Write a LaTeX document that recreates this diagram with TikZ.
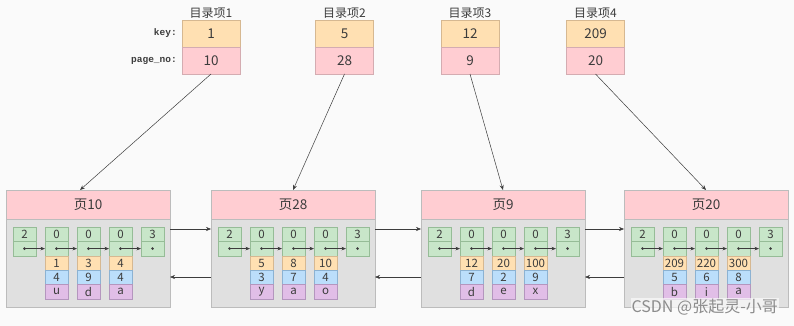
\documentclass[tikz,border=0pt]{standalone}
\usepackage{fontspec}
\setmainfont{Noto Sans CJK SC}
\newfontfamily\codefont{Liberation Mono}
\usepackage{xcolor}
\usepackage{tikz}
\usetikzlibrary{arrows.meta, positioning, calc}
\definecolor{keybg}{RGB}{255,224,178}
\definecolor{keyln}{RGB}{214,184,145}
\definecolor{pinkbg}{RGB}{255,205,210}
\definecolor{pinkln}{RGB}{212,172,177}
\definecolor{bodybg}{RGB}{224,224,224}
\definecolor{bodyln}{RGB}{188,188,188}
\definecolor{slotbg}{RGB}{200,230,201}
\definecolor{slotln}{RGB}{150,188,151}
\definecolor{nobg}{RGB}{187,222,251}
\definecolor{noln}{RGB}{140,178,210}
\definecolor{chbg}{RGB}{225,190,231}
\definecolor{chln}{RGB}{180,150,190}
\definecolor{inkgrey}{RGB}{60,60,60}
\definecolor{paper}{RGB}{250,250,250}

\begin{document}
\begin{tikzpicture}[
  x=1pt, y=-1pt,
  text=inkgrey,
  dkey/.style={rectangle, draw=keyln, fill=keybg, minimum width=58pt, minimum height=27pt,
               inner sep=0pt, outer sep=0pt, font=\fontsize{13.5}{15}\selectfont},
  dpage/.style={dkey, draw=pinkln, fill=pinkbg},
  dlbl/.style={inner sep=1pt, font=\fontsize{12}{14}\selectfont},
  klbl/.style={inner sep=0pt, font=\codefont\bfseries\fontsize{9.5}{11}\selectfont},
  phead/.style={rectangle, draw=bodyln, fill=pinkbg, minimum width=164pt, minimum height=29pt,
                inner sep=0pt, outer sep=0pt, font=\fontsize{13.5}{15}\selectfont},
  pbody/.style={rectangle, draw=bodyln, fill=bodybg, minimum width=164pt, minimum height=88pt,
                inner sep=0pt, outer sep=0pt},
  slot/.style={rectangle, draw=slotln, fill=slotbg, minimum width=23pt, minimum height=14.4pt,
               inner sep=0pt, outer sep=0pt, font=\fontsize{11.5}{12}\selectfont},
  kcell/.style={slot, draw=keyln, fill=keybg},
  ncell/.style={slot, draw=noln, fill=nobg},
  ccell/.style={slot, draw=chln, fill=chbg},
  ptr/.style={-{Stealth[length=5pt, width=4pt]}, line width=0.5pt, inkgrey},
  sptr/.style={-{Stealth[length=4.5pt, width=3.5pt]}, line width=0.5pt, inkgrey},
  wmark/.style={inner sep=1pt, text=black!45, fill=paper, fill opacity=0.7, text opacity=1,
                font=\fontsize{16}{18}\selectfont}
]
\fill[paper] (0,0) rectangle (794,326);
\useasboundingbox (0,0) rectangle (794,326);

% directory entries
\foreach \d/\dx/\k/\p in {1/211/1/10, 2/344.5/5/28, 3/470/12/9, 4/595.5/209/20} {
  \node[dkey] (d\d-k) at (\dx,33.5) {\k};
  \node[dpage, below=0pt of d\d-k] (d\d-p) {\p};
  \node[dlbl, above=0pt of d\d-k] (d\d-l) {目录项\d};
}
\node[klbl, left=5pt of d1-k] (keyl) {key:};
\node[klbl, left=5pt of d1-p] (pnol) {page\_no:};

% data pages
\foreach \pg/\px/\ttl/\ka/\kb/\kc/\na/\nb/\nc/\ca/\cb/\cc in {
    p10/6/页10/1/3/4/4/9/4/u/d/a,
    p28/211/页28/5/8/10/3/7/4/y/a/o,
    p9/421/页9/12/20/100/7/2/9/d/e/x,
    p20/624/页20/209/220/300/5/6/8/b/i/a} {
  \node[phead, anchor=north west] (\pg-h) at (\px,190) {\ttl};
  \node[pbody, below=0pt of \pg-h] (\pg-b) {};
  % record slots
  \node[slot, anchor=north west] (\pg-s1) at ([shift={(7,8)}]\pg-b.north west) {2};
  \node[slot, below=0pt of \pg-s1] (\pg-d1) {};
  \foreach \i/\prev/\top in {2/1/0, 3/2/0, 4/3/0, 5/4/3} {
    \node[slot, right=9pt of \pg-s\prev] (\pg-s\i) {\top};
    \node[slot, below=0pt of \pg-s\i] (\pg-d\i) {};
  }
  % user records
  \foreach \i/\kk/\nn/\cv in {2/\ka/\na/\ca, 3/\kb/\nb/\cb, 4/\kc/\nc/\cc} {
    \node[kcell, below=0pt of \pg-d\i] (\pg-k\i) {\kk};
    \node[ncell, below=0pt of \pg-k\i] (\pg-n\i) {\nn};
    \node[ccell, below=0pt of \pg-n\i] (\pg-c\i) {\cv};
  }
  \foreach \i in {1,...,5}
    \fill[inkgrey] (\pg-d\i.center) circle (1.4pt);
  \foreach \i/\j in {1/2, 2/3, 3/4, 4/5}
    \draw[sptr] (\pg-d\i.center) -- (\pg-d\j.west);
}

% directory -> page
\draw[ptr] (d1-p.south) -- ([xshift=-8pt]p10-h.north);
\draw[ptr] (d2-p.south) -- (p28-h.north);
\draw[ptr] (d3-p.south) -- (p9-h.north);
\draw[ptr] (d4-p.south) -- (p20-h.north);

% page links
\foreach \a/\b in {p10/p28, p28/p9, p9/p20} {
  \draw[ptr] ([yshift=-10pt]\a-b.north east) -- ([yshift=-10pt]\b-b.north west);
  \draw[ptr] ([yshift=-58pt]\b-b.north west) -- ([yshift=-58pt]\a-b.north east);
}

\node[wmark, anchor=south east] (wm) at (779,316) {CSDN @张起灵-小哥};
\end{tikzpicture}
\end{document}
